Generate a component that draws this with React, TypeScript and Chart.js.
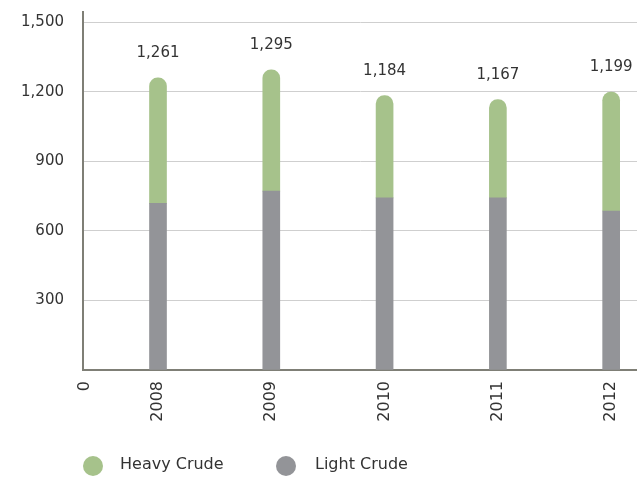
import React, { useEffect, useRef } from 'react';
import { Chart, registerables } from 'chart.js';

Chart.register(...registerables);

// ---- data ----
const years = ['2008', '2009', '2010', '2011', '2012'];
const totals = [1261, 1295, 1184, 1167, 1199];
const lightCrude = [719, 772, 743, 743, 686];
const heavyCrude = [542, 523, 441, 424, 513];
const yTickValues = [0, 300, 600, 900, 1200, 1500];
const zeroLabel = '0';
const seriesNames = ['Heavy Crude', 'Light Crude'];

// ---- styles ----
const GREEN = '#a6c28b';
const GREY = '#939498';
const TEXT = '#333333';
const AXIS = '#7f7f76';
const GRID = '#cfcfcf';
const FONT = '"DejaVu Sans", Verdana, sans-serif';

const X_MIN = -0.662;
const X_MAX = 4.228;
const ZERO_POS = -0.644;

const fmt = (v: number) => v.toLocaleString('en-US');

export default function App() {
  const ref = useRef<HTMLCanvasElement | null>(null);

  useEffect(() => {
    if (!ref.current) return;

    const labelPlugin = {
      id: 'totalsLabels',
      afterDatasetsDraw(chart: any) {
        const { ctx, scales } = chart;
        ctx.save();
        ctx.font = `15px ${FONT}`;
        ctx.fillStyle = TEXT;
        ctx.textAlign = 'center';
        ctx.textBaseline = 'alphabetic';
        totals.forEach((t, i) => {
          const x = scales.x.getPixelForValue(i);
          const y = scales.y.getPixelForValue(t) - 21;
          ctx.fillText(fmt(t), x, y);
        });
        ctx.restore();
      },
    };

    const legendPlugin = {
      id: 'customLegend',
      afterDraw(chart: any) {
        const { ctx } = chart;
        const items = [
          { name: seriesNames[0], color: GREEN, cx: 93, tx: 120 },
          { name: seriesNames[1], color: GREY, cx: 286, tx: 315 },
        ];
        ctx.save();
        ctx.font = `16px ${FONT}`;
        ctx.textBaseline = 'middle';
        ctx.textAlign = 'left';
        items.forEach((it) => {
          ctx.beginPath();
          ctx.arc(it.cx, 466, 10, 0, Math.PI * 2);
          ctx.fillStyle = it.color;
          ctx.fill();
          ctx.fillStyle = TEXT;
          ctx.fillText(it.name, it.tx, 465);
        });
        ctx.restore();
      },
    };

    const chart = new Chart(ref.current, {
      type: 'bar',
      data: {
        datasets: [
          {
            label: seriesNames[1],
            data: lightCrude.map((v, i) => ({ x: i, y: v })),
            backgroundColor: GREY,
            barThickness: 17,
            borderWidth: 0,
          },
          {
            label: seriesNames[0],
            data: heavyCrude.map((v, i) => ({ x: i, y: v })),
            backgroundColor: GREEN,
            barThickness: 17,
            borderWidth: 0,
            borderSkipped: false,
            borderRadius: { topLeft: 8.5, topRight: 8.5, bottomLeft: 0, bottomRight: 0 },
          },
        ],
      },
      options: {
        animation: false,
        responsive: false,
        devicePixelRatio: 1,
        layout: { padding: { top: 12, bottom: 47, left: 0, right: 0 } },
        plugins: {
          legend: { display: false },
          tooltip: { enabled: false },
        },
        scales: {
          x: {
            type: 'linear',
            offset: false,
            min: X_MIN,
            max: X_MAX,
            stacked: true,
            grid: { display: false, drawTicks: false, offset: false },
            border: { display: true, color: AXIS, width: 2 },
            afterBuildTicks: (s: any) => {
              s.ticks = [ZERO_POS, 0, 1, 2, 3, 4].map((v) => ({ value: v }));
            },
            afterFit: (s: any) => {
              s.height = 60;
              s.paddingLeft = 0;
              s.paddingRight = 0;
            },
            ticks: {
              autoSkip: false,
              minRotation: 90,
              maxRotation: 90,
              padding: 11,
              color: TEXT,
              font: { family: FONT, size: 16 },
              callback: (v: any) => (v === ZERO_POS ? zeroLabel : years[v as number] ?? ''),
            },
          },
          y: {
            min: 0,
            max: 1545,
            stacked: true,
            grid: { color: GRID, lineWidth: 1, drawTicks: true, tickLength: 16, tickColor: 'rgba(0,0,0,0)' },
            border: { display: true, color: AXIS, width: 2 },
            afterBuildTicks: (s: any) => {
              s.ticks = yTickValues.map((v) => ({ value: v }));
            },
            afterFit: (s: any) => {
              s.width = 83;
              s.paddingTop = 0;
              s.paddingBottom = 0;
            },
            ticks: {
              padding: 3,
              color: TEXT,
              font: { family: FONT, size: 15 },
              callback: (v: any) => (v === 0 ? '' : fmt(v as number)),
            },
          },
        },
      },
      plugins: [labelPlugin, legendPlugin],
    } as any);

    return () => chart.destroy();
  }, []);

  return (
    <div style={{ position: 'fixed', left: 0, top: 0, width: 637, height: 477, background: '#fff' }}>
      <canvas ref={ref} width={637} height={477} style={{ width: 637, height: 477, display: 'block' }} />
    </div>
  );
}
